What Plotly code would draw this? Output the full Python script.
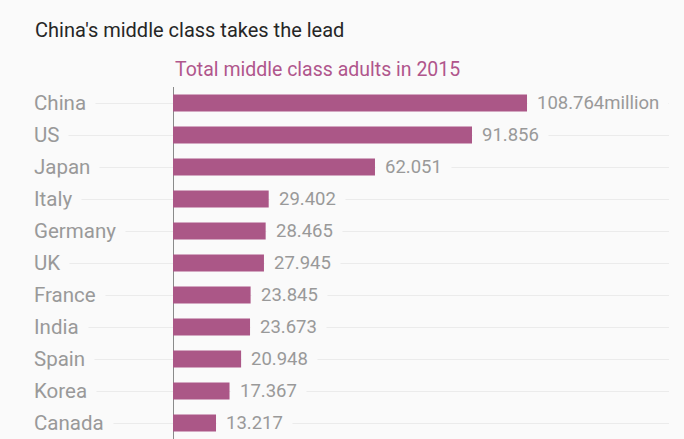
import plotly.graph_objects as go

countries = ["China", "US", "Japan", "Italy", "Germany", "UK", "France", "India", "Spain", "Korea", "Canada"]
values = [108.764, 91.856, 62.051, 29.402, 28.465, 27.945, 23.845, 23.673, 20.948, 17.367, 13.217]
value_labels = ["108.764million", "91.856", "62.051", "29.402", "28.465", "27.945", "23.845", "23.673", "20.948", "17.367", "13.217"]
title = "China's middle class takes the lead"
subtitle = "Total middle class adults in 2015"

BG = "#fafafa"
BAR = "#ab5787"
GRAY = "#999999"
FONT = "Roboto"

fig = go.Figure(go.Bar(
    x=values, y=countries, orientation="h",
    marker=dict(color=BAR, line=dict(width=0)),
    width=0.53, hoverinfo="skip",
))

ann = []
for c in countries:
    ann.append(dict(x=0, xref="paper", y=c, yref="y", text=c, showarrow=False,
                    xanchor="left", yanchor="middle", xshift=-9,
                    font=dict(family=FONT, size=20.5, color=GRAY),
                    bgcolor=BG, borderpad=9))
for v, c, t in zip(values, countries, value_labels):
    ann.append(dict(x=v, xref="x", y=c, yref="y", text=t, showarrow=False,
                    xanchor="left", yanchor="middle", xshift=0,
                    font=dict(family=FONT, size=18.5, color=GRAY),
                    bgcolor=BG, borderpad=9))
ann.append(dict(x=0, xref="paper", y=1, yref="paper", yanchor="bottom", xanchor="left", yshift=43,
                text=title, showarrow=False,
                font=dict(family=FONT, size=20, color="#262626")))
ann.append(dict(x=0, xref="x", y=1, yref="paper", yanchor="bottom", xanchor="left", yshift=4,
                text=subtitle, showarrow=False, font=dict(family=FONT, size=19.5, color="#b0568c")))

fig.update_layout(
    width=684, height=439,
    margin=dict(l=33, r=15, t=87, b=0),
    paper_bgcolor=BG, plot_bgcolor=BG,
    showlegend=False,
    xaxis=dict(range=[-43.01, 152.38], showgrid=False, showticklabels=False,
               zeroline=True, zerolinecolor="#8a8a8a", zerolinewidth=1, fixedrange=True),
    yaxis=dict(categoryorder="array", categoryarray=countries[::-1], showticklabels=False,
               showgrid=True, gridcolor="#ebebeb", gridwidth=1, zeroline=False,
               range=[-0.5, len(countries) - 0.5], fixedrange=True),
    annotations=ann,
    font=dict(family=FONT),
)
fig.write_html("out.html", config={"displayModeBar": False},
               post_script="document.body.style.margin='0';document.body.style.overflow='hidden';document.body.style.background='#fafafa';")
